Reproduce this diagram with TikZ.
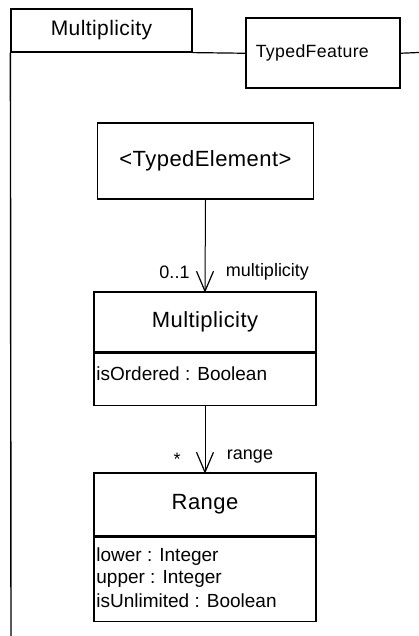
\documentclass[tikz,border=0pt]{standalone}
\usepackage{fontspec}
\setmainfont{Liberation Sans}
\tikzset{
  x=1pt, y=-1pt,
  classbox/.style={draw, line width=1.6pt, inner sep=0pt, minimum width=222pt},
  pkgbox/.style={draw, line width=1.2pt, inner sep=0pt},
  title/.style={font=\fontsize{22}{24}\selectfont\addfontfeature{LetterSpace=2}},
  attr/.style={font=\fontsize{19}{21}\selectfont, anchor=west, inner sep=0pt},
  lbl/.style={font=\fontsize{18}{20}\selectfont, inner sep=0pt},
  assoc/.style={line width=1pt},
  vhead/.style={line width=1.2pt, line join=miter},
  frameline/.style={line width=1.4pt}
}
\begin{document}
\begin{tikzpicture}
\useasboundingbox (0,0) rectangle (419,636);
% package tab and frame
\node[pkgbox, minimum width=181pt, minimum height=43pt, font=\fontsize{21}{24}\selectfont\addfontfeature{LetterSpace=2}] (tab) at (101.5,30.5) {Multiplicity};
\node[pkgbox, line width=1.5pt, minimum width=154pt, minimum height=70pt, anchor=north west, font=\fontsize{17.7}{20}\selectfont\addfontfeature{LetterSpace=2}, align=left, text width=134pt] (tf) at (245,17.5) {TypedFeature};
\coordinate (fbot) at (11,636);
\coordinate (fright) at (419,52.5);
\draw[frameline] (fbot) -- (tab.south west);
\draw[line width=1.2pt] (tab.south east) -- (tf.west);
\draw[line width=1.2pt] (tf.east) -- (fright);
% TypedElement
\node[classbox, minimum width=216pt, minimum height=76pt, title] (te) at (205.5,161) {<TypedElement>};
% Multiplicity class
\node[classbox, minimum height=60pt, title] (mult) at (205,322) {Multiplicity};
\node[classbox, minimum height=52pt, anchor=north] (multattr) at (mult.south) {};
\node[attr] (a1) at ([xshift=3pt,yshift=-21pt]multattr.north west) {isOrdered : Boolean};
% Range class
\node[classbox, minimum height=63pt, title] (range) at (205,504.5) {Range};
\node[classbox, minimum height=84pt, anchor=north] (rangeattr) at (range.south) {};
\node[attr] (r1) at ([xshift=3pt,yshift=-20pt]rangeattr.north west) {lower : Integer};
\node[attr] (r2) at ([xshift=3pt,yshift=-42pt]rangeattr.north west) {upper : Integer};
\node[attr] (r3) at ([xshift=3pt,yshift=-64pt]rangeattr.north west) {isUnlimited : Boolean};
% associations
\draw[assoc] (te.south) -- (mult.north);
\draw[vhead] ([shift={(-8.5,-20)}]mult.north) -- (mult.north) -- ([shift={(8.5,-20)}]mult.north);
\draw[assoc] (multattr.south) -- (range.north);
\draw[vhead] ([shift={(-8.5,-20)}]range.north) -- (range.north) -- ([shift={(8.5,-20)}]range.north);
\node[lbl] (m1) at (174.5,272) {0..1};
\node[lbl] (m2) at (267.5,272) {multiplicity};
\node[lbl] (m3) at (177,459) {*};
\node[lbl] (m4) at (250,457) {range};
\end{tikzpicture}
\end{document}
